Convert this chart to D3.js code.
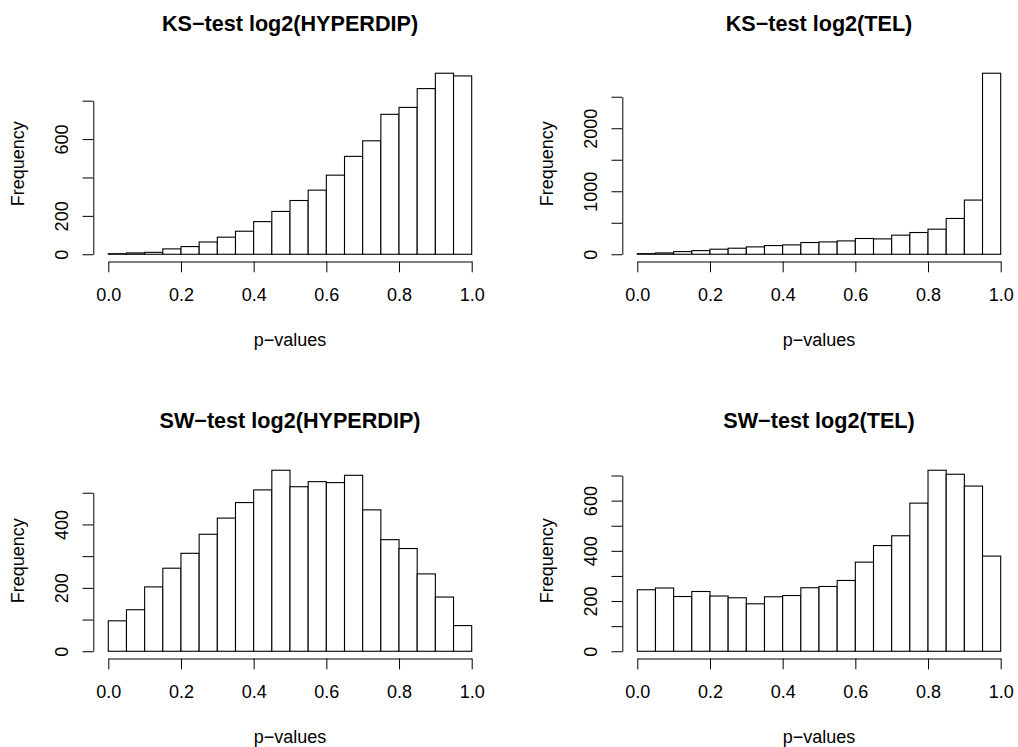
<!DOCTYPE html>
<html>
<head>
<meta charset="utf-8">
<script src="https://cdn.jsdelivr.net/npm/d3@7"></script>
<style>
  body { margin: 0; background: #fff; }
  text { font-family: "Liberation Sans", Arial, sans-serif; fill: #000; }
  .bar { fill: #fff; stroke: #000; stroke-width: 1.1px; }
  .axis path, .axis line { stroke: #000; stroke-width: 1px; }
</style>
</head>
<body>
<script>
// histogram bin edges (p-values)
var breaks = [0, 0.05, 0.1, 0.15, 0.2, 0.25, 0.3, 0.35, 0.4, 0.45, 0.5,
              0.55, 0.6, 0.65, 0.7, 0.75, 0.8, 0.85, 0.9, 0.95, 1.0];

// counts per bin
var ksHyperdip = [3, 7, 10, 28, 40, 64, 89, 120, 170, 223, 280, 334, 412, 510, 591, 729, 765, 863, 943, 929];
var ksTel      = [10, 21, 42, 58, 80, 96, 117, 138, 149, 186, 196, 212, 250, 244, 303, 345, 398, 568, 860, 2873];
var swHyperdip = [96, 131, 203, 262, 309, 369, 420, 469, 509, 571, 519, 535, 532, 555, 446, 352, 324, 244, 171, 81];
var swTel      = [245, 252, 218, 238, 220, 213, 189, 217, 222, 253, 258, 282, 355, 421, 460, 590, 721, 705, 658, 379];

var titles = ["KS\u2212test log2(HYPERDIP)", "KS\u2212test log2(TEL)",
              "SW\u2212test log2(HYPERDIP)", "SW\u2212test log2(TEL)"];

var xTicks = [0, 0.2, 0.4, 0.6, 0.8, 1.0];
var yTicks = [
  [0, 200, 400, 600, 800],
  [0, 500, 1000, 1500, 2000, 2500],
  [0, 100, 200, 300, 400, 500],
  [0, 100, 200, 300, 400, 500, 600, 700]
];
// labels that R actually printed (the rest were dropped for overlap)
var yLabels = [
  [0, 200, 600],
  [0, 1000, 2000],
  [0, 200, 400],
  [0, 200, 400, 600]
];

var xLabel = "p\u2212values";
var yLabel = "Frequency";

var counts = [ksHyperdip, ksTel, swHyperdip, swTel];

var svg = d3.select("body").append("svg")
  .attr("width", 1018)
  .attr("height", 747);

var colX = [108.3, 637.3];   // pixel of p = 0
var rowTop = [66, 463];      // top of plot region
var plotW = 363.4, plotH = 195.5;
var tick = 10.8;

counts.forEach(function(vals, i) {
  var x0 = colX[i % 2], top = rowTop[Math.floor(i / 2)], bottom = top + plotH;
  var mx = d3.max(vals);

  var x = d3.scaleLinear().domain([0, 1]).range([x0, x0 + plotW]);
  var y = d3.scaleLinear().domain([-0.04 * mx, 1.04 * mx]).range([bottom, top]);

  var g = svg.append("g");

  // bars
  g.selectAll("rect")
    .data(vals)
    .enter().append("rect")
    .attr("class", "bar")
    .attr("x", function(d, j) { return x(breaks[j]); })
    .attr("width", function(d, j) { return x(breaks[j + 1]) - x(breaks[j]); })
    .attr("y", function(d) { return y(d); })
    .attr("height", function(d) { return y(0) - y(d); });

  // x axis
  g.append("g")
    .attr("class", "axis")
    .attr("transform", "translate(0," + bottom + ")")
    .call(d3.axisBottom(x)
      .tickValues(xTicks)
      .tickFormat(d3.format(".1f"))
      .tickSize(tick)
      .tickSizeOuter(0)
      .tickPadding(15.5))
    .attr("font-size", 18)
    .attr("font-family", null);

  // y axis, line only spans the ticks
  var ts = yTicks[i];
  var yAx = d3.scaleLinear()
    .domain([0, ts[ts.length - 1]])
    .range([y(0), y(ts[ts.length - 1])]);
  var ya = g.append("g")
    .attr("class", "axis")
    .attr("transform", "translate(" + (x0 - 15) + ",0)")
    .call(d3.axisLeft(yAx)
      .tickValues(ts)
      .tickSize(tick)
      .tickSizeOuter(0)
      .tickFormat(function(d) { return yLabels[i].indexOf(d) >= 0 ? d : ""; }))
    .attr("font-size", 18)
    .attr("font-family", null);
  ya.selectAll(".tick text")
    .attr("x", null)
    .attr("dy", null)
    .attr("text-anchor", "middle")
    .attr("transform", "translate(-25.3,0) rotate(-90)");

  // title
  g.append("text")
    .attr("x", x0 + plotW / 2)
    .attr("y", top - 35.5)
    .attr("text-anchor", "middle")
    .attr("font-size", 21.6)
    .attr("font-weight", "bold")
    .text(titles[i]);

  // x label
  g.append("text")
    .attr("x", x0 + plotW / 2)
    .attr("y", bottom + 84)
    .attr("text-anchor", "middle")
    .attr("font-size", 18)
    .text(xLabel);

  // y label
  g.append("text")
    .attr("transform", "translate(" + (x0 - 84.5) + "," + (top + plotH / 2) + ") rotate(-90)")
    .attr("text-anchor", "middle")
    .attr("font-size", 18)
    .text(yLabel);
});
</script>
</body>
</html>
